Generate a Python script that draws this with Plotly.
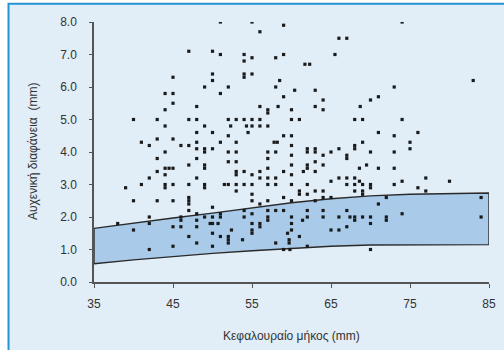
import plotly.graph_objects as go

# Crown-rump length (mm) and nuchal translucency (mm) for each measurement
crl_mm = [
    51, 55, 59, 56, 47, 50, 51, 54, 54, 55, 59, 58, 45, 50, 50, 54, 54, 55, 58.5, 49,
    52, 58, 44, 45, 51, 59, 45, 48, 56, 57, 57, 58.3, 60, 44, 40, 43, 47, 48, 52, 53,
    54, 55, 56, 60, 44, 49, 52.3, 54.3, 55, 56, 57, 48, 50, 54.5, 52, 59, 60, 41, 42, 43,
    45, 46, 47, 48, 51, 53, 57.8, 58.2, 48, 49, 50,
    44, 49, 52, 53, 57, 58, 43, 48, 52, 53, 57, 47, 49, 49, 43, 44, 44.5, 45, 53, 53,
    54, 56, 55, 57, 59, 44, 42, 48, 56, 57, 58, 60, 41, 39, 44, 44, 45, 47, 49, 49,
    51.5, 52, 53, 54, 55, 57, 58, 60, 53, 55, 40, 43, 45, 47, 47, 47, 47, 55, 57, 59, 60,
    38, 42, 42, 40, 46, 46, 45, 46, 48, 48, 48, 49, 50, 50, 51, 51, 49.7, 50, 50.7, 54,
    54, 55, 55, 55, 55, 56, 56, 56, 57, 57, 57, 58, 59, 60, 60, 47, 52.4, 50, 51, 52,
    52, 52, 53.8, 59.5, 59.7, 59.7, 48, 45, 50, 42, 58, 59, 59.8, 60,
    74, 66, 67, 65.5, 61.7, 62.3, 83, 73, 60.4, 63, 64, 71, 70, 63, 64, 68.7, 61, 68, 69, 74,
    71, 76, 73, 69, 75, 60, 62, 63, 66, 68, 75, 65, 73, 70, 62, 63, 68, 67, 67, 60,
    64, 60, 62, 62, 63, 64, 69.5, 68.6, 71, 73, 61.5, 63, 65, 66, 67, 68, 68.6, 69, 70, 70,
    74, 73, 77, 80, 76, 77, 62, 61, 61, 63, 64, 67, 68, 68, 69, 69, 62, 64, 65, 63,
    72, 71, 84, 64, 67, 67.4, 68, 68, 62, 62, 61.4, 64, 66, 69, 70, 72, 72, 74, 70, 84,
    67, 65, 66, 61, 62, 70,
]
nt_mm = [
    8.0, 8.0, 7.9, 7.7, 7.1, 7.1, 7.0, 7.0, 6.8, 6.9, 7.0, 6.9, 6.3, 6.4, 6.2, 6.4, 6.3, 6.4, 6.2, 6.0,
    6.0, 6.0, 5.8, 5.8, 5.8, 5.7, 5.5, 5.4, 5.4, 5.3, 5.2, 5.4, 5.3, 5.3, 5.0, 5.0, 5.0, 5.0, 5.0, 5.0,
    5.0, 5.0, 5.0, 5.0, 4.8, 4.8, 4.8, 4.8, 4.8, 4.8, 4.8, 4.6, 4.6, 4.6, 4.5, 4.5, 4.5, 4.3, 4.2, 4.4,
    4.4, 4.2, 4.2, 4.3, 4.3, 4.3, 4.3, 4.3, 4.1, 4.1, 4.1,
    4.0, 4.0, 4.0, 4.0, 4.0, 4.0, 3.8, 3.8, 3.7, 3.7, 3.8, 3.6, 3.6, 3.5, 3.4, 3.5, 3.5, 3.5, 3.4, 3.3,
    3.4, 3.4, 3.3, 3.5, 3.4, 3.3, 3.2, 3.2, 3.2, 3.2, 3.2, 3.3, 3.0, 2.9, 3.0, 2.9, 3.0, 3.0, 3.0, 2.9,
    3.0, 3.0, 3.0, 3.0, 3.0, 3.0, 3.0, 3.0, 2.8, 2.7, 2.5, 2.5, 2.5, 2.6, 2.5, 2.4, 2.2, 2.5, 2.5, 2.6, 2.5,
    1.8, 2.0, 1.8, 1.6, 2.0, 1.9, 1.7, 1.7, 2.1, 1.9, 1.7, 2.0, 2.3, 2.0, 2.1, 2.0, 1.8, 1.8, 1.8, 2.2,
    2.0, 2.1, 1.8, 1.6, 1.5, 2.4, 1.8, 1.7, 2.2, 2.0, 1.9, 2.2, 2.2, 2.0, 1.8, 1.4, 1.6, 1.5, 1.4, 1.4,
    1.3, 1.2, 1.3, 1.5, 1.3, 1.2, 1.2, 1.1, 1.1, 1.0, 1.2, 1.0, 1.0, 1.6,
    8.0, 7.5, 7.5, 7.0, 6.7, 6.7, 6.2, 6.0, 5.9, 5.9, 5.6, 5.7, 5.6, 5.4, 5.3, 5.4, 5.0, 5.0, 5.0, 5.0,
    4.6, 4.6, 4.5, 4.3, 4.3, 4.2, 4.1, 4.1, 4.1, 4.1, 4.1, 4.0, 4.0, 4.0, 4.0, 4.0, 4.2, 3.9, 3.8, 3.9,
    3.9, 3.6, 3.6, 3.5, 3.7, 3.6, 3.6, 3.5, 3.5, 3.5, 3.4, 3.4, 3.1, 3.2, 3.2, 3.2, 3.1, 3.0, 3.0, 2.9,
    3.1, 3.0, 3.2, 3.1, 2.9, 2.8, 3.0, 2.8, 2.7, 2.8, 2.8, 3.0, 3.0, 2.8, 2.8, 2.7, 2.7, 2.6, 2.6, 2.5,
    2.6, 2.4, 2.6, 2.2, 2.2, 2.0, 2.0, 1.9, 2.2, 2.0, 1.9, 2.0, 2.0, 2.0, 2.0, 2.0, 1.9, 2.1, 1.8, 2.0,
    1.7, 1.6, 1.6, 1.4, 1.1, 1.0,
]

# Reference range (lower and upper limits) against crown-rump length
range_crl = [35, 40, 45, 50, 55, 60, 65, 70, 75, 80, 85]
range_low = [0.56, 0.68, 0.79, 0.88, 0.96, 1.04, 1.10, 1.14, 1.15, 1.15, 1.15]
range_high = [1.65, 1.82, 1.97, 2.12, 2.28, 2.44, 2.56, 2.65, 2.70, 2.73, 2.74]

x_ticks = [35, 45, 55, 65, 75, 85]
y_ticks = [0, 1, 2, 3, 4, 5, 6, 7, 8]
y_tick_text = [f"{v:.1f}" for v in y_ticks]

PANEL = "#E1EDF7"
BAND = "#A9CBE9"
FRAME = "#2394D4"
INK = "#333333"
AXIS = "#555555"
FONT = "Liberation Sans, Arial, sans-serif"

fig = go.Figure()

# Shaded reference band with outlined edges
fig.add_trace(go.Scatter(
    x=range_crl + range_crl[::-1] + [range_crl[0]],
    y=range_high + range_low[::-1] + [range_high[0]],
    mode="lines",
    fill="toself",
    fillcolor=BAND,
    line=dict(color="#2a2a2a", width=1.4),
    hoverinfo="skip",
    showlegend=False,
))

# Individual measurements
fig.add_trace(go.Scatter(
    x=crl_mm,
    y=nt_mm,
    mode="markers",
    marker=dict(symbol="square", size=3.2, color="#1a1a1a", line=dict(width=0)),
    showlegend=False,
))

L, R, T, B = 94, 8, 22, 68
W, H = 504, 350
pw, ph = W - L - R, H - T - B

def px_to_xpaper(px):
    return (px - L) / pw

def py_to_ypaper(py):
    return (H - B - py) / ph

# Light panel with a blue frame on its top and left sides
fig.add_shape(
    type="rect", xref="paper", yref="paper", layer="below",
    x0=px_to_xpaper(7), x1=px_to_xpaper(W + 20),
    y0=py_to_ypaper(H + 20), y1=py_to_ypaper(3.7),
    fillcolor=PANEL, line=dict(color=FRAME, width=2),
)

fig.add_annotation(
    text="Αυχενική διαφάνεια  (mm)",
    xref="paper", yref="paper",
    x=px_to_xpaper(32), y=py_to_ypaper(151),
    xanchor="center", yanchor="middle",
    textangle=-90, showarrow=False,
    font=dict(family=FONT, size=12, color=INK),
)
fig.add_annotation(
    text="Κεφαλουραίο μήκος (mm)",
    xref="paper", yref="paper",
    x=px_to_xpaper(295), y=py_to_ypaper(336),
    xanchor="center", yanchor="middle",
    showarrow=False,
    font=dict(family=FONT, size=12, color=INK),
)

fig.update_xaxes(
    range=[35, 85],
    tickvals=x_ticks,
    ticktext=[str(v) for v in x_ticks],
    ticks="outside", ticklen=4, tickcolor=AXIS, tickwidth=1,
    showline=True, linecolor=AXIS, linewidth=1.5,
    showgrid=False, zeroline=False,
    ticklabelstandoff=6,
    tickfont=dict(family=FONT, size=12, color=INK),
)
fig.update_yaxes(
    range=[0, 8],
    tickvals=y_ticks,
    ticktext=y_tick_text,
    ticks="outside", ticklen=3, tickcolor=AXIS, tickwidth=1,
    showline=True, linecolor=AXIS, linewidth=1.5,
    showgrid=False, zeroline=False,
    ticklabelstandoff=10,
    tickfont=dict(family=FONT, size=12, color=INK),
)

fig.update_layout(
    width=W, height=H,
    margin=dict(l=L, r=R, t=T, b=B, pad=0),
    paper_bgcolor="white",
    plot_bgcolor="rgba(0,0,0,0)",
    font=dict(family=FONT, size=12, color=INK),
    showlegend=False,
)

fig.write_html("out.html")
